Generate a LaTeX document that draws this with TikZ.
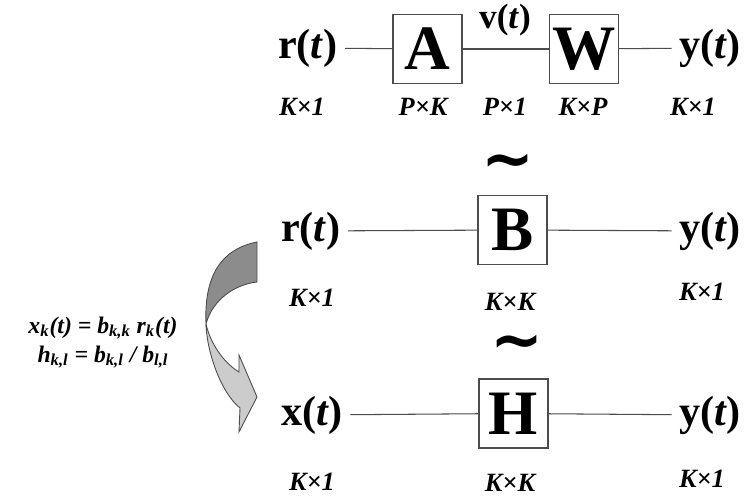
\documentclass[tikz,border=0pt]{standalone}
\usepackage{fontspec}
\setmainfont{Liberation Serif}
\newfontfamily\tildefont{DejaVu Sans}
\usepackage{amsmath}
\usepackage{amssymb}
\usepackage{tikz}

\begin{document}
\begin{tikzpicture}[
  box/.style={draw=black!70,line width=0.6pt,minimum size=1.38cm,inner sep=0pt,font=\fontsize{36}{36}\selectfont\bfseries},
  sig/.style={inner sep=4pt,font=\fontsize{24}{24}\selectfont\bfseries},
  dim/.style={inner sep=1pt,font=\fontsize{15}{15}\selectfont\bfseries\itshape},
  equiv/.style={inner sep=0pt,anchor=base,text height=0.5cm,text depth=0cm,font=\tildefont\fontsize{36}{36}\selectfont\bfseries},
  wire/.style={black!70,line width=0.6pt}]
\useasboundingbox (0,0) rectangle (14.92,9.94);
% top row
\node[sig] (r1) at (6.16,8.98) {r(\textit{t})};
\node[box] (A) at (8.55,8.96) {A};
\node[box] (W) at (11.68,8.96) {W};
\node[sig] (y1) at (14.2,8.98) {y(\textit{t})};
\node[sig,font=\fontsize{20}{20}\selectfont\bfseries] (v) at (10.1,9.54) {v(\textit{t})};
\draw[wire] (r1) -- (A);
\draw[wire] (A) -- (W);
\draw[wire] (W) -- (y1);
\node[dim] (d11) at (6.04,7.8) {K×1};
\node[dim] (d12) at (8.46,7.8) {P×K};
\node[dim] (d13) at (10.1,7.8) {P×1};
\node[dim] (d14) at (11.66,7.8) {K×P};
\node[dim] (d15) at (13.86,7.8) {K×1};
\node[equiv] (T1) at (10.16,6.32) {\char`\~};

% middle row
\node[sig] (r2) at (6.22,5.32) {r(\textit{t})};
\node[box] (B) at (10.25,5.34) {B};
\node[sig] (y2) at (14.2,5.32) {y(\textit{t})};
\draw[wire] (r2) -- (B);
\draw[wire] (B) -- (y2);
\node[dim] (d21) at (6.24,3.98) {K×1};
\node[dim] (d22) at (10.2,3.9) {K×K};
\node[dim] (d23) at (14.04,4.1) {K×1};
\node[equiv] (T2) at (10.34,2.7) {\char`\~};

% bottom row
\node[sig] (x3) at (6.24,1.64) {x(\textit{t})};
\node[box] (H) at (10.27,1.67) {H};
\node[sig] (y3) at (14.2,1.64) {y(\textit{t})};
\draw[wire] (x3) -- (H);
\draw[wire] (H) -- (y3);
\node[dim] (d31) at (6.24,0.3) {K×1};
\node[dim] (d32) at (10.2,0.28) {K×K};
\node[dim] (d33) at (14.04,0.36) {K×1};

% twisted arrow
\filldraw[fill=black!45,draw=black!70,line width=0.5pt] (5.14,5.10) .. controls (4.4,4.95) and (4.08,4.4) .. (4.12,3.46)
  .. controls (4.25,3.95) and (4.7,4.25) .. (5.14,4.30) -- cycle;
\filldraw[fill=black!20,draw=black!70,line width=0.5pt] (4.12,3.46) .. controls (4.13,2.95) and (4.4,2.1) .. (4.80,1.78)
  -- (4.78,1.30) -- (5.14,2.00) -- (4.78,2.84) -- (4.78,2.50) .. controls (4.45,2.7) and (4.2,3.1) .. cycle;

\node[font=\fontsize{13.5}{14}\selectfont\bfseries\itshape] (F1) at (2.06,3.38) {x\textsubscript{k}(t) = b\textsubscript{k,k} r\textsubscript{k}(t)};
\node[font=\fontsize{13.5}{14}\selectfont\bfseries\itshape] (F2) at (2.06,2.8) {h\textsubscript{k,l} = b\textsubscript{k,l} / b\textsubscript{l,l}};
\end{tikzpicture}
\end{document}
